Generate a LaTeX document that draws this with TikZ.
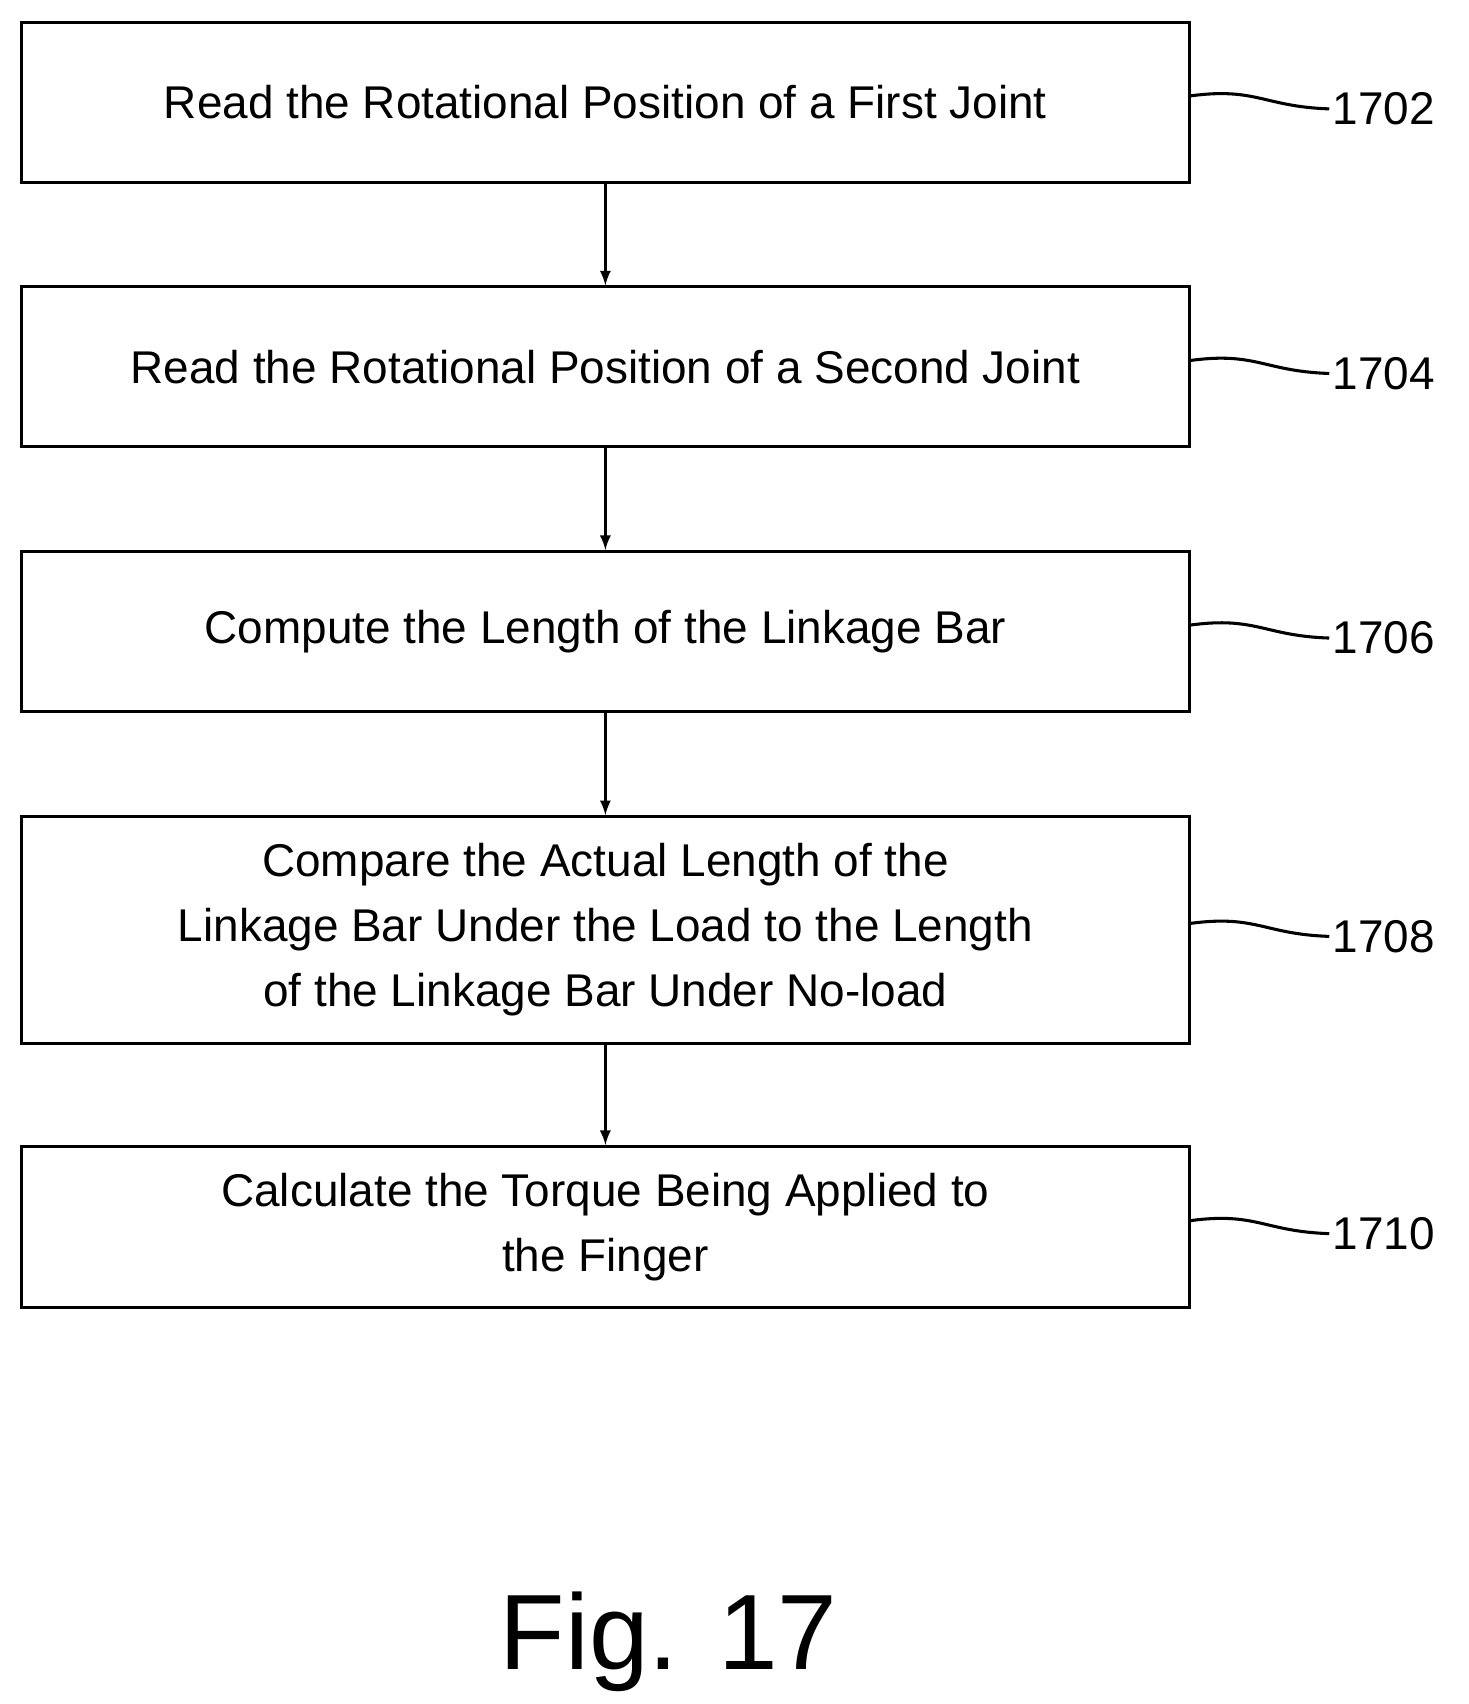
\documentclass[tikz,border=0pt]{standalone}
\usepackage{fontspec}
\setmainfont{Liberation Sans}
\tikzset{
  stepbox/.style = {draw, line width=1.6pt, minimum width=21.46cm, align=center, font=\fontsize{24}{34}\selectfont},
  lbl/.style = {right, inner sep=1pt, font=\fontsize{24}{28}\selectfont},
}
\begin{document}
\begin{tikzpicture}[x=0.02cm, y=-0.02cm, line width=1.6pt]
  \useasboundingbox (0,0) rectangle (1349,1565);
  \node[stepbox, minimum height=2.94cm] (1702) at (556, 94) {Read the Rotational Position of a First Joint};
  \node[stepbox, minimum height=2.94cm] (1704) at (556, 337) {Read the Rotational Position of a Second Joint};
  \node[stepbox, minimum height=2.94cm] (1706) at (556, 580) {Compute the Length of the Linkage Bar};
  \node[stepbox, minimum height=4.16cm] (1708) at (556, 854) {Compare the Actual Length of the\\Linkage Bar Under the Load to the Length\\of the Linkage Bar Under No-load};
  \node[stepbox, minimum height=2.96cm] (1710) at (556, 1127) {Calculate the Torque Being Applied to\\the Finger};

  \draw[-latex] (1702) -- (1704);
  \draw[-latex] (1704) -- (1706);
  \draw[-latex] (1706) -- (1708);
  \draw[-latex] (1708) -- (1710);

  \foreach \n in {1702, 1704, 1706, 1708, 1710} {
    \draw (\n.east) ++(0,-6) coordinate (s\n)
      .. controls ++(60,-8) and ++(-60,-2) .. ++(127,12) coordinate (t\n);
    \node[lbl] (r\n) at (t\n) {\n};
  }

  \node[font=\fontsize{56}{60}\selectfont] (fig) at (614, 1508) {Fig. 17};
\end{tikzpicture}
\end{document}
